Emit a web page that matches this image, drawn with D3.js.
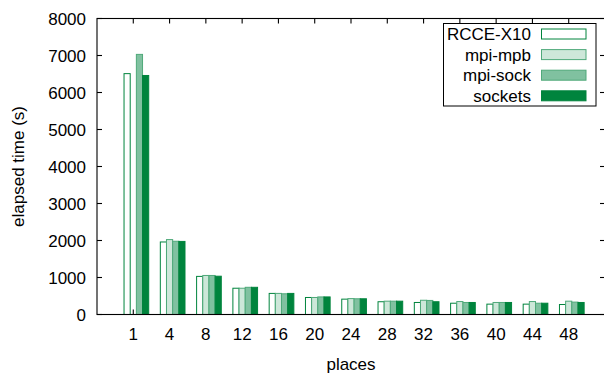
<!DOCTYPE html>
<html>
<head>
<meta charset="utf-8">
<script src="https://cdn.jsdelivr.net/npm/d3@7/dist/d3.min.js"></script>
<style>
  html, body { margin: 0; padding: 0; background: #fff; }
  svg { display: block; font-family: "Liberation Sans", Arial, Helvetica, sans-serif; }
</style>
</head>
<body>
<svg id="chart" width="604" height="375"></svg>
<script>
// Elapsed time (seconds) per number of places, one array per implementation.
const places = ["1", "4", "8", "12", "16", "20", "24", "28", "32", "36", "40", "44", "48"];
const seriesNames = ["RCCE-X10", "mpi-mpb", "mpi-sock", "sockets"];
const rcceX10 = [6510, 1960, 1030, 710, 570, 460, 415, 345, 325, 305, 280, 280, 270];
const mpiMpb  = [null, 2025, 1055, 710, 570, 460, 430, 360, 385, 350, 325, 350, 360];
const mpiSock = [7030, 1980, 1055, 735, 560, 475, 425, 360, 380, 325, 325, 305, 335];
const sockets = [6460, 1975, 1035, 735, 570, 475, 425, 360, 345, 325, 325, 305, 325];
const yTicks = [0, 1000, 2000, 3000, 4000, 5000, 6000, 7000, 8000];

const series = [rcceX10, mpiMpb, mpiSock, sockets];
const fills   = ["#ffffff", "#cde7d9", "#80c1a0", "#00843d"];
const strokes = ["#00843d", "#4fa97a", "#4fa97a", "#00843d"];

const svg = d3.select("#chart");
const plotL = 97, plotR = 605, plotT = 18.5, plotB = 314.5;

const x = d3.scaleLinear().domain([-1, places.length]).range([plotL, plotR]);
const y = d3.scaleLinear().domain([0, 8000]).range([plotB, plotT]);
const step = x(1) - x(0);
const bw = step * 0.17;
const tickLen = 5;

// Bars: each cluster starts one and a half bar widths left of its tick.
const bars = svg.append("g");
series.forEach((vals, j) => {
  bars.selectAll(null)
    .data(vals.map((v, i) => ({ v, i })).filter(d => d.v != null))
    .enter().append("rect")
    .attr("x", d => x(d.i) + (j - 1.5) * bw)
    .attr("y", d => y(d.v))
    .attr("width", bw)
    .attr("height", d => plotB - y(d.v))
    .attr("fill", fills[j])
    .attr("stroke", strokes[j])
    .attr("stroke-width", 1);
});

// Frame and mirrored ticks
const axes = svg.append("g").attr("stroke", "#000").attr("stroke-width", 1.1).attr("fill", "none");
axes.append("rect").attr("x", plotL).attr("y", plotT).attr("width", plotR - plotL).attr("height", plotB - plotT);
yTicks.forEach(t => {
  axes.append("line").attr("x1", plotL).attr("x2", plotL + tickLen).attr("y1", y(t)).attr("y2", y(t));
  axes.append("line").attr("x1", plotR - tickLen).attr("x2", plotR).attr("y1", y(t)).attr("y2", y(t));
});
places.forEach((p, i) => {
  axes.append("line").attr("x1", x(i)).attr("x2", x(i)).attr("y1", plotT).attr("y2", plotT + tickLen);
});
// bottom tick only visible where no bar covers it
axes.append("line").attr("x1", x(0)).attr("x2", x(0)).attr("y1", plotB - tickLen).attr("y2", plotB);

// Tick labels
const fs = 17;
svg.append("g").selectAll("text").data(yTicks).enter().append("text")
  .attr("x", plotL - 11).attr("y", d => y(d) + 6)
  .attr("text-anchor", "end").attr("font-size", fs).attr("fill", "#000")
  .text(d => d);
svg.append("g").selectAll("text").data(places).enter().append("text")
  .attr("x", (d, i) => x(i)).attr("y", 339.5)
  .attr("text-anchor", "middle").attr("font-size", fs).attr("fill", "#000")
  .text(d => d);

// Axis titles
svg.append("text").attr("x", (plotL + plotR) / 2).attr("y", 370)
  .attr("text-anchor", "middle").attr("font-size", fs).text("places");
svg.append("text").attr("transform", `translate(24,${(plotT + plotB) / 2}) rotate(-90)`)
  .attr("text-anchor", "middle").attr("font-size", fs).text("elapsed time (s)");

// Legend
const lg = svg.append("g");
lg.append("rect").attr("x", 443.5).attr("y", 23.5).attr("width", 152.5).attr("height", 82.5)
  .attr("fill", "#fff").attr("stroke", "#000").attr("stroke-width", 1);
seriesNames.forEach((name, j) => {
  const cy = 34 + j * 20.6;
  lg.append("text").attr("x", 531).attr("y", cy + 6)
    .attr("text-anchor", "end").attr("font-size", fs).text(name);
  lg.append("rect").attr("x", 541.5).attr("y", cy - 5).attr("width", 44.5).attr("height", 10)
    .attr("fill", fills[j]).attr("stroke", strokes[j]).attr("stroke-width", 1);
});
</script>
</body>
</html>
